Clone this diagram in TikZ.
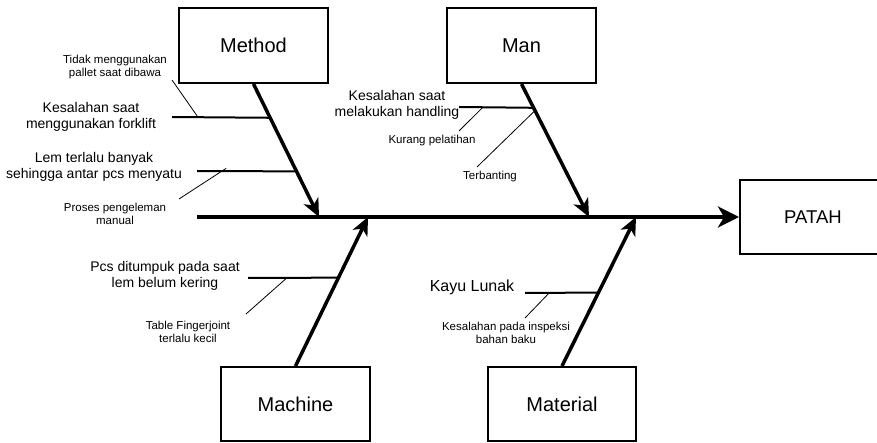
\documentclass[tikz,border=0pt]{standalone}
\usepackage{fontspec}
\setmainfont{Liberation Sans}
\usetikzlibrary{calc,arrows.meta}

\begin{document}
\begin{tikzpicture}[x=1pt,y=-1pt,
    cat/.style={draw,line width=2pt,minimum width=149pt,minimum height=75pt,font=\fontsize{20}{24}\selectfont},
    cause/.style={align=center,font=\fontsize{14}{16}\selectfont},
    sub/.style={align=center,font=\fontsize{11.5}{13}\selectfont},
    spine/.style={line width=4.5pt,-{Stealth[length=21pt,width=21pt,inset=6pt]}},
    rib/.style={line width=3.5pt,-{Stealth[length=18pt,width=16pt,inset=5pt]}},
    bone/.style={line width=2pt},
    twig/.style={line width=0.8pt}]
    \useasboundingbox (0,0) rectangle (877,443);
    % categories and effect
    \node[cat] (method) at (253.5,45.5) {Method};
    \node[cat] (man) at (521.5,45.5) {Man};
    \node[cat,minimum height=74pt] (machine) at (295.5,404) {Machine};
    \node[cat,minimum width=148pt,minimum height=74pt] (material) at (562,404) {Material};
    \node[cat,minimum width=146pt,minimum height=74pt,font=\fontsize{18.5}{22}\selectfont] (patah) at (813,217) {PATAH};
    % spine
    \coordinate (S) at (197,217);
    \draw[spine] (S) -- (patah.west);
    \coordinate (mt) at (319,217);
    \coordinate (nt) at (589,217);
    \coordinate (ct) at (368,217);
    \coordinate (lt) at (636,217);
    \draw[rib] (method.south) -- (mt);
    \draw[rib] (man.south) -- (nt);
    \draw[rib] (machine.north) -- (ct);
    \draw[rib] (material.north) -- (lt);
    % method
    \coordinate (mk1) at ($(method.south)!0.254!(mt)$);
    \coordinate (mk1l) at (172,117);
    \coordinate (mk2) at ($(method.south)!0.657!(mt)$);
    \coordinate (mk2l) at (197,171);
    \draw[bone] (mk1l) -- (mk1);
    \draw[bone] (mk2l) -- (mk2);
    \node[cause] (m1) at (91,117) {Kesalahan saat\\menggunakan forklift};
    \node[cause] (m2) at (94,167) {Lem terlalu banyak\\sehingga antar pcs menyatu};
    \node[sub] (m11) at (115,67) {Tidak menggunakan\\pallet saat dibawa};
    \node[sub] (m21) at (115,214) {Proses pengeleman\\manual};
    \coordinate (p1) at (172,80);
    \coordinate (p2) at (179,199);
    \draw[twig] (p1) -- ($(mk1l)!0.265!(mk1)$);
    \draw[twig] (p2) -- ($(p2)!1.1!($(mk2l)!0.25!(mk2)$)$);
    % man
    \coordinate (nk1) at ($(man.south)!0.179!(nt)$);
    \coordinate (nk1l) at (459,107);
    \draw[bone] (nk1l) -- (nk1);
    \node[cause] (n1) at (397,105) {Kesalahan saat\\melakukan handling};
    \node[sub] (n11) at (432,141) {Kurang pelatihan};
    \node[sub] (n12) at (490,177) {Terbanting};
    \coordinate (p3) at (459,131);
    \coordinate (p4) at (477,167);
    \draw[twig] (p3) -- ($(nk1l)!0.32!(nk1)$);
    \draw[twig] (p4) -- ($(man.south)!0.2!(nt)$);
    % machine
    \coordinate (ck1) at ($(machine.north)!0.593!(ct)$);
    \coordinate (ck1l) at (248,278);
    \draw[bone] (ck1l) -- (ck1);
    \node[cause] (c1) at (165,276) {Pcs ditumpuk pada saat\\lem belum kering};
    \node[sub] (c11) at (188,332) {Table Fingerjoint\\terlalu kecil};
    \coordinate (p5) at (246,314);
    \draw[twig] (p5) -- ($(ck1l)!0.43!(ck1)$);
    % material
    \coordinate (lk1) at ($(material.north)!0.493!(lt)$);
    \coordinate (lk1l) at (525,293);
    \draw[bone] (lk1l) -- (lk1);
    \node[cause,font=\fontsize{16}{18}\selectfont] (l1) at (472,287) {Kayu Lunak};
    \node[sub] (l11) at (506,333) {Kesalahan pada inspeksi\\bahan baku};
    \coordinate (p6) at (525,318);
    \draw[twig] (p6) -- ($(lk1l)!0.33!(lk1)$);
\end{tikzpicture}
\end{document}
